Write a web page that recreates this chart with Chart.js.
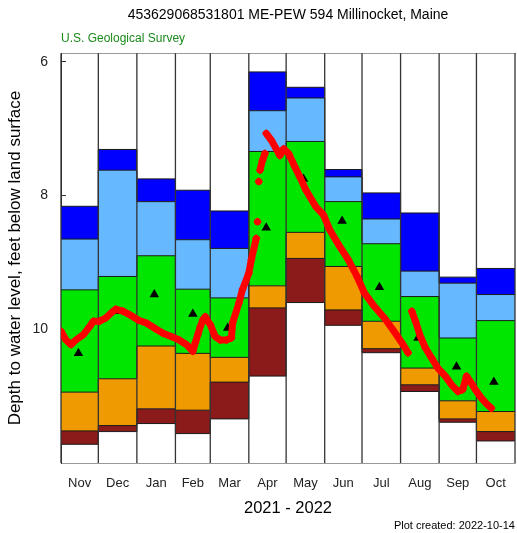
<!DOCTYPE html>
<html><head><meta charset="utf-8">
<script src="https://cdn.jsdelivr.net/npm/chart.js@4.4.0/dist/chart.umd.min.js"></script>
<style>
html,body{margin:0;padding:0;background:#fff;}
#wrap{position:relative;width:517px;height:533px;}
#credit{position:absolute;right:2px;top:519px;font:11px 'Liberation Sans',Arial,sans-serif;color:#000;}
</style></head><body>
<div id="wrap"><canvas id="c" width="517" height="533"></canvas><div id="credit">Plot created: 2022-10-14</div></div>
<script>
// Months (water year Nov 2021 - Oct 2022); start day counted from 2021-11-01, last entry = end of Oct
const monthLabels = ['Nov','Dec','Jan','Feb','Mar','Apr','May','Jun','Jul','Aug','Sep','Oct'];
const monthStartDay = [0,30,61,92,120,151,181,212,242,273,304,334,365];

// Historical monthly percentiles (feet below land surface)
const pMax = [8.16, 7.31, 7.75, 7.92, 8.23, 6.15, 6.38, 7.61, 7.96, 8.26, 9.22, 9.09];
const p90  = [8.65, 7.62, 8.09, 8.66, 8.79, 6.73, 6.54, 7.72, 8.35, 9.13, 9.31, 9.48];
const p75  = [9.41, 9.21, 8.90, 9.40, 9.53, 7.34, 7.19, 8.09, 8.72, 9.51, 10.13, 9.87];
const p25  = [10.94, 10.74, 10.25, 10.36, 10.42, 9.35, 8.55, 9.06, 9.88, 10.58, 11.07, 11.23];
const p10  = [11.52, 11.44, 11.19, 11.21, 10.79, 9.68, 8.94, 9.71, 10.29, 10.83, 11.34, 11.53];
const pMin = [11.72, 11.53, 11.41, 11.56, 11.34, 10.70, 9.60, 9.94, 10.35, 10.93, 11.39, 11.67];

// Monthly median of current data (triangles), plotted on the 15th
const medianLevel = [10.36, 9.73, 9.48, 9.77, 9.98, 8.48, 7.75, 8.38, 9.37, 10.13, 10.56, 10.79];

// Daily observations (days since 2021-11-01), null = gap
const obsDay = [0,4,8,12,18,23,26,31,36,40,44,50,55,62,69,75,82,89,95,101,106,108,110,112,114,116,118,120,124,128,133,137,138,143,146,151,153,157,157.5,158,158.5,159,159.5,160,162,164,164.5,165,169,173,176,179,183,188,192,197,205,211,216,224,231,238,244,252,260,267,274,279,280,282,285,289,293,298,303,309,314,319,323,326,329,333,338,343,346];
const obsLevel = [10.03,10.16,10.23,10.16,10.08,9.96,9.88,9.88,9.83,9.76,9.70,9.73,9.78,9.86,9.91,9.98,10.06,10.11,10.16,10.23,10.33,10.20,10.08,9.96,9.86,9.81,9.88,9.93,10.11,10.16,10.16,10.13,9.90,9.61,9.40,9.16,8.96,8.64,null,8.39,null,7.79,null,7.62,7.47,7.37,null,7.07,7.17,7.30,7.40,7.30,7.37,7.57,7.72,7.92,8.17,8.29,8.51,8.76,8.96,9.21,9.46,9.66,9.83,10.01,10.20,10.35,null,9.73,9.88,10.11,10.28,10.43,10.58,10.70,10.83,10.93,10.90,10.70,10.78,10.90,11.03,11.13,11.18];

const yTickValues = [6, 8, 10];
const Y_TOP = 5.87, Y_BOTTOM = 12.0;

Chart.defaults.font.family = "'Liberation Sans', Arial, sans-serif";

function stepData(vals){
  const pts = vals.map((v,i)=>({x:monthStartDay[i], y:v}));
  pts.push({x:monthStartDay[monthStartDay.length-1], y:vals[vals.length-1]});
  return pts;
}
const bandLines = [pMin, p10, p25, p75, p90, pMax];
const bandColors = ['rgba(0,0,0,0)', '#8B1A1A', '#EE9A00', '#00E600', '#66B8FF', '#0000FF'];
const datasets = bandLines.map((vals,k)=>({
  type:'line', data: stepData(vals), stepped:'before',
  borderColor:'#1a1a1a', borderWidth:1, pointRadius:0,
  fill: k===0 ? false : '-1', backgroundColor: bandColors[k], order:3
}));

const edgePts = [];
monthStartDay.forEach(d=>{ edgePts.push({x:d,y:Y_TOP},{x:d,y:Y_BOTTOM},{x:d,y:null}); });
datasets.push({type:'line', data:edgePts, borderColor:'#333', borderWidth:1.3, pointRadius:0, spanGaps:false, fill:false, order:2, clip:false});

datasets.push({type:'line', data: medianLevel.map((v,i)=>({x:monthStartDay[i]+14, y:v})), showLine:false,
  pointStyle:'triangle', pointRadius:5.5, pointBackgroundColor:'#000', pointBorderColor:'#000', pointBorderWidth:0, order:1});

datasets.push({type:'line', data: obsDay.map((d,i)=>({x:d, y:obsLevel[i]})), borderColor:'#FF0000', borderWidth:7,
  borderJoinStyle:'round', borderCapStyle:'round', spanGaps:false,
  pointStyle:'rectRot', pointRadius:4.2, pointBackgroundColor:'#FF0000', pointBorderWidth:0, order:0, fill:false});

new Chart(document.getElementById('c'), {
  type:'line',
  data:{datasets},
  options:{
    responsive:false, animation:false,
    layout:{autoPadding:false, padding:{left:0,right:2,top:0,bottom:0}},
    plugins:{
      legend:{display:false}, tooltip:{enabled:false},
      title:{display:true, text:'453629068531801 ME-PEW 594 Millinocket, Maine', fullSize:false,
        font:{size:14, weight:'normal'}, color:'#000', padding:{top:7,bottom:6}},
      subtitle:{display:true, text:'U.S. Geological Survey', align:'start', fullSize:false,
        font:{size:12}, color:'#1a8a1a', padding:{top:2,bottom:7}}
    },
    scales:{
      x:{type:'linear', min:0, max:365, display:false},
      x2:{type:'linear', position:'bottom', min:0, max:365,
        afterBuildTicks:s=>{ s.ticks = monthLabels.map((m,i)=>({value:(monthStartDay[i]+monthStartDay[i+1])/2})); },
        ticks:{autoSkip:false, maxRotation:0, padding:13, color:'#222', font:{size:13}, callback:(v,i)=>monthLabels[i]},
        grid:{display:false, drawTicks:false}, border:{display:true, color:'#999', width:1},
        title:{display:true, text:'2021 - 2022', font:{size:16.5}, color:'#000', padding:{top:0,bottom:15}},
        afterFit:s=>{ s.height = 70; s.paddingLeft = 0; s.paddingRight = 0; }},
      xTop:{type:'linear', position:'top', min:0, max:365, ticks:{display:false},
        grid:{display:false, drawTicks:false}, border:{display:true, color:'#999', width:1},
        afterFit:s=>{ s.height = 0; s.paddingLeft = 0; s.paddingRight = 0; }},
      y:{type:'linear', reverse:true, min:Y_TOP, max:Y_BOTTOM,
        afterBuildTicks:s=>{ s.ticks = yTickValues.map(v=>({value:v})); },
        ticks:{padding:18, font:{size:14}, color:'#222'},
        grid:{drawOnChartArea:false, drawTicks:true, tickLength:-5, color:'#333'},
        border:{display:true, color:'#333', width:1},
        title:{display:true, text:'Depth to water level, feet below land surface', font:{size:17}, color:'#000', padding:{top:5,bottom:0}},
        afterFit:s=>{ s.width = 61; s.paddingTop = 0; s.paddingBottom = 0; }}
    }
  }
});
</script>
</body></html>
